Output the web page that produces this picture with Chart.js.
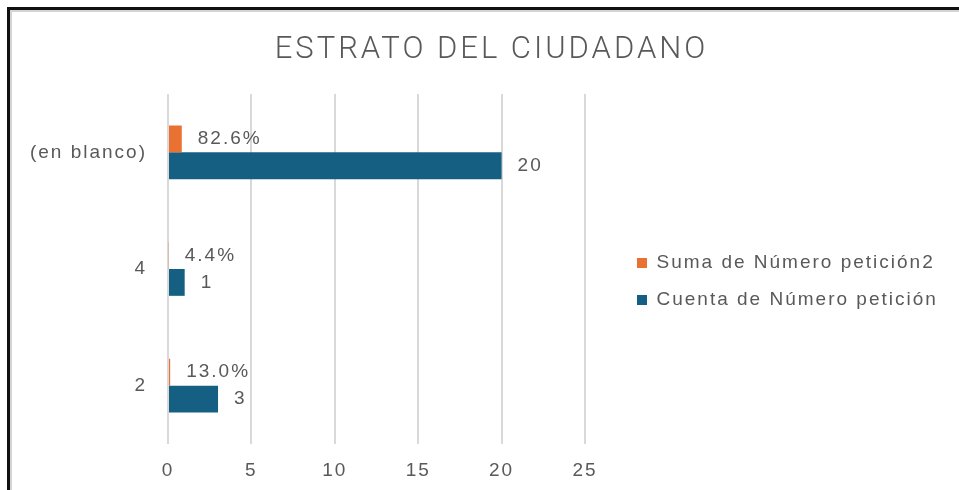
<!DOCTYPE html>
<html>
<head>
<meta charset="utf-8">
<script src="https://cdn.jsdelivr.net/npm/chart.js@4.4.1/dist/chart.umd.min.js"></script>
<style>
  html, body { margin: 0; padding: 0; background: #fff; overflow: hidden; }
  #wrap { position: relative; width: 959px; height: 490px; overflow: hidden; }
  #frame { position: absolute; left: 7px; top: 7px; width: 2000px; height: 2000px;
           border-top: 3px solid #111; border-left: 3px solid #111;
           box-shadow: inset 2px 2px 0 #d4d4d4; pointer-events: none; }
  #title { position: absolute; left: 0; top: 32px; width: 983px; text-align: center;
           font: 300 31px/31px Roboto, sans-serif; letter-spacing: 3px; color: #595959;
           white-space: nowrap; }
  canvas { position: absolute; left: 0; top: 0; }
</style>
</head>
<body>
<div id="wrap">
  <div id="frame"></div>
  <canvas id="chart" width="959" height="490"></canvas>
  <div id="title">ESTRATO DEL CIUDADANO</div>
</div>
<script>
// data
const categories = ['(en blanco)', '4', '2'];
const sumaPct = [0.826, 0.044, 0.130];   // Suma de Número petición2 (shown as %)
const cuenta = [20, 1, 3];               // Cuenta de Número petición
const xMin = 0, xMax = 25, xStep = 5;

const grey = '#595959';
let padL = 20, padR = 11;

Chart.defaults.font.family = '"Liberation Sans", Arial, sans-serif';
Chart.defaults.font.size = 19;
Chart.defaults.color = grey;

// the original text looks stretched, space the letters a bit
const spacing = {
  id: 'spacing',
  beforeUpdate(c) { c.ctx.letterSpacing = '2px'; },
  beforeLayout(c) { c.ctx.letterSpacing = '2px'; },
  beforeDraw(c) { c.ctx.letterSpacing = '2px'; }
};

// value labels at the end of each bar
const barLabels = {
  id: 'barLabels',
  afterDatasetsDraw(chart) {
    const ctx = chart.ctx;
    ctx.save();
    ctx.font = '19px "Liberation Sans", Arial, sans-serif';
    ctx.fillStyle = grey;
    ctx.textAlign = 'left';
    ctx.textBaseline = 'middle';
    chart.data.datasets.forEach((ds, i) => {
      chart.getDatasetMeta(i).data.forEach((bar, j) => {
        const v = ds.data[j];
        const txt = i === 0 ? (v * 100).toFixed(1) + '%' : String(v);
        ctx.fillText(txt, bar.x + 16, bar.y);
      });
    });
    ctx.restore();
  }
};

const chart = new Chart(document.getElementById('chart'), {
  type: 'bar',
  data: {
    labels: categories,
    datasets: [
      { label: 'Suma de Número petición2', data: sumaPct, backgroundColor: '#E97132',
        barPercentage: 1, categoryPercentage: 0.46 },
      { label: 'Cuenta de Número petición', data: cuenta, backgroundColor: '#156082',
        barPercentage: 1, categoryPercentage: 0.46 }
    ]
  },
  options: {
    indexAxis: 'y',
    responsive: false,
    animation: false,
    layout: { padding: { left: padL, right: padR, top: 94, bottom: 0 } },
    plugins: {
      title: { display: false },
      legend: {
        position: 'right',
        fullSize: false,
        maxWidth: 500,
        title: { display: true, text: '', font: { size: 10 }, padding: { top: 13, bottom: 0 } },
        labels: { boxWidth: 10, boxHeight: 10, padding: 18, color: grey, font: { size: 19 } }
      },
      tooltip: { enabled: false }
    },
    scales: {
      x: {
        min: xMin, max: xMax,
        ticks: { stepSize: xStep, color: grey, font: { size: 19 }, padding: 15 },
        grid: { color: '#d9d9d9', lineWidth: 2, drawTicks: false },
        border: { display: false },
        afterFit(s) { s.height = 46; }
      },
      y: {
        grid: { display: false, drawTicks: false },
        border: { display: false },
        ticks: { color: grey, font: { size: 19 }, padding: 21 },
        afterFit(s) { s.width = 168 - padL; }
      },
      gap: {
        type: 'linear', axis: 'y', position: 'right',
        grid: { display: false }, border: { display: false }, ticks: { display: false },
        afterFit(s) { s.width = 34; }
      }
    }
  },
  plugins: [spacing, barLabels]
});

// legend starts at the same place as in the original
padR = 340 - chart.legend.width;
chart.options.layout.padding = { left: padL, right: padR, top: 94, bottom: 0 };
chart.update();
</script>
</body>
</html>
